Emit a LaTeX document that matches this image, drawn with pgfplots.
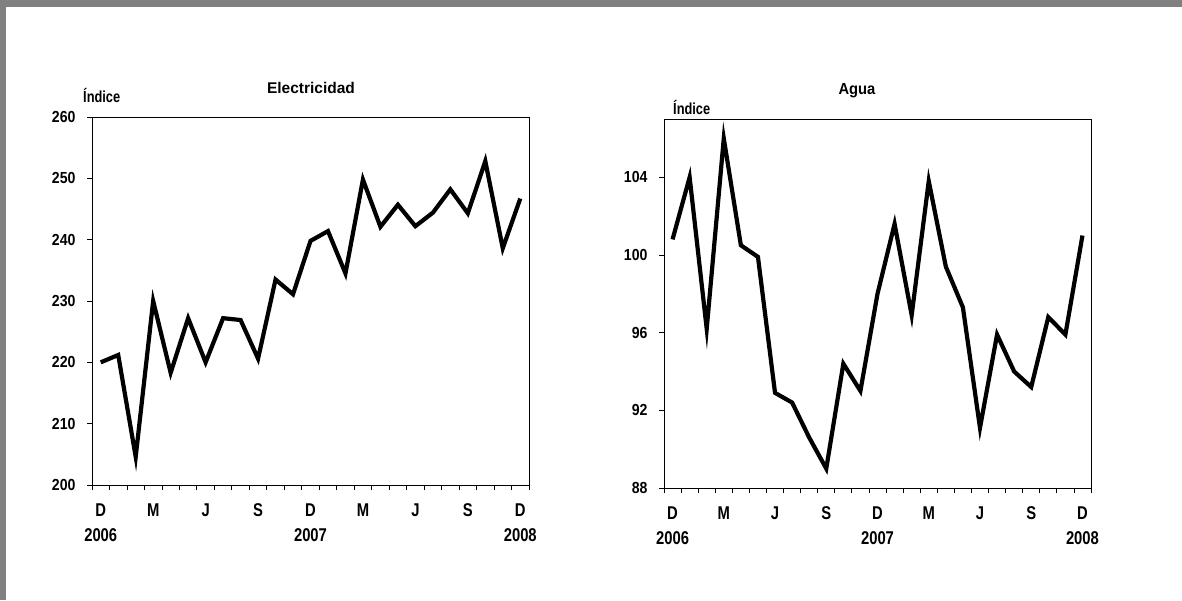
\documentclass[border=0pt]{standalone}
\usepackage{fontspec}
\setmainfont{Liberation Sans}
\newfontfamily\ytickfont[FakeStretch=0.88]{Liberation Sans}
\newfontfamily\xtickfont[FakeStretch=0.8]{Liberation Sans}
\newfontfamily\indfont[FakeStretch=0.8]{Liberation Sans}
\newfontfamily\aguafont[FakeStretch=0.92]{Liberation Sans}
\usepackage{pgfplots}
\pgfplotsset{compat=1.18}
\definecolor{framegray}{RGB}{128,128,128}

\pgfplotsset{
  panel/.style={
    scale only axis,
    anchor=south west,
    axis line style={line width=1pt},
    every tick/.style={black, line width=0.8pt},
    tick align=outside,
    xtick pos=bottom, ytick pos=left,
    major tick length=5pt, minor tick length=5pt,
    xmin=-0.5, xmax=24.5,
    xtick={0,3,...,24},
    xticklabels={D,M,J,S,D,M,J,S,D},
    major x tick style={draw=none},
    minor xtick={-0.5,0.5,...,24.5},
    xticklabel style={anchor=north, inner sep=0pt, text height=13pt, text depth=0pt,
      yshift=-13.5pt, font=\fontsize{18.5}{20}\xtickfont\bfseries},
    yticklabel style={xshift=-8pt, font=\fontsize{16}{18}\ytickfont\bfseries},
    extra x ticks={0,12,24},
    extra x tick labels={2006,2007,2008},
    extra x tick style={major x tick style={draw=none}, xticklabel style={yshift=-25pt}},
    /pgf/number format/assume math mode=true,
    /pgf/number format/set thousands separator={},
  },
  serie/.style={black, line width=4.2pt, line join=miter, mark=none},
}

\begin{document}
\begin{tikzpicture}
\path[use as bounding box, fill=white] (0pt,0pt) rectangle (1182pt,-600pt);
\fill[framegray] (0pt,0pt) rectangle (1182pt,-7pt);
\fill[framegray] (0pt,0pt) rectangle (5.5pt,-600pt);

% Electricidad
\begin{axis}[panel, at={(92pt,-485pt)}, width=437pt, height=368pt,
    ymin=200, ymax=260, ytick={200,210,...,260}]
  \addplot[serie] coordinates {
    (0,220.0) (1,221.2) (2,204.6) (3,230.0) (4,218.3) (5,227.2)
    (6,220.0) (7,227.2) (8,226.9) (9,220.6) (10,233.5) (11,231.1)
    (12,239.8) (13,241.4) (14,234.5) (15,249.8) (16,242.1) (17,245.7)
    (18,242.2) (19,244.4) (20,248.2) (21,244.3) (22,252.8) (23,238.6)
    (24,246.7)
  };
\end{axis}
\node[font=\fontsize{15.5}{18}\selectfont\bfseries] at (311pt,-88pt) {Electricidad};
\node[anchor=west, inner sep=0pt, font=\fontsize{16}{18}\indfont\bfseries] at (83pt,-95pt) {Índice};

% Agua
\begin{axis}[panel, at={(664pt,-488pt)}, width=427pt, height=369pt,
    ymin=88, ymax=107, ytick={88,92,...,104}]
  \addplot[serie] coordinates {
    (0,100.8) (1,104.0) (2,96.2) (3,106.0) (4,100.5) (5,99.9)
    (6,92.9) (7,92.4) (8,90.6) (9,89.0) (10,94.4) (11,93.0)
    (12,98.0) (13,101.6) (14,96.9) (15,103.8) (16,99.4) (17,97.3)
    (18,91.1) (19,95.9) (20,94.0) (21,93.2) (22,96.8) (23,95.9)
    (24,101.0)
  };
\end{axis}
\node[font=\fontsize{16}{18}\aguafont\bfseries] at (857pt,-91pt) {Agua};
\node[anchor=west, inner sep=0pt, font=\fontsize{16}{18}\indfont\bfseries] at (673pt,-107pt) {Índice};
\end{tikzpicture}
\end{document}
